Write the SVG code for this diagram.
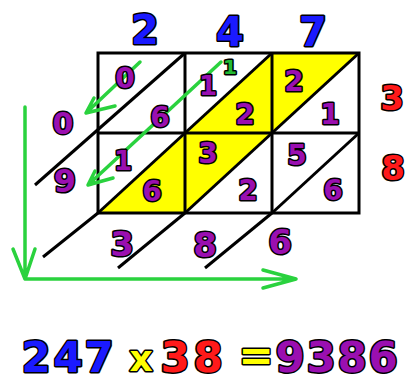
<svg xmlns="http://www.w3.org/2000/svg" width="409" height="384" viewBox="0 0 409 384">
<style>
.d{font-family:"DejaVu Sans",sans-serif;font-weight:bold;text-anchor:middle;stroke:#000;stroke-width:3;paint-order:stroke;stroke-linejoin:round}
.b{fill:#1a1aff}.p{fill:#9a0fb0}.r{fill:#ff1a1a}.y{fill:#ffff00}.g{fill:#22bb33}
.e{font-size:42px}
.ln{stroke:#000;stroke-width:3;fill:none;stroke-linecap:butt}
.ar{stroke:#2ad23e;stroke-width:3.5;fill:none;stroke-linecap:round;stroke-linejoin:round}
</style>
<rect width="409" height="384" fill="#fff"/>
<g id="grid">
<polygon points="185,133 272,133 272,53" fill="#ffff00"/>
<polygon points="272,53 359,53 272,133" fill="#ffff00"/>
<polygon points="98,213 185,213 185,133" fill="#ffff00"/>
<polygon points="185,133 272,133 185,213" fill="#ffff00"/>
<rect x="98" y="53" width="261" height="160" class="ln"/>
<line x1="185" y1="53" x2="185" y2="213" class="ln"/>
<line x1="272" y1="53" x2="272" y2="213" class="ln"/>
<line x1="98" y1="133" x2="359" y2="133" class="ln"/>
</g>
<g id="connectors">
<line x1="185" y1="53" x2="35" y2="185" class="ln"/>
<line x1="272" y1="53" x2="98" y2="213" class="ln"/>
<line x1="359" y1="53" x2="185" y2="213" class="ln"/>
<line x1="98" y1="213" x2="43" y2="257" class="ln"/>
<line x1="359" y1="133" x2="272" y2="213" class="ln"/>
<line x1="185" y1="213" x2="118" y2="268" class="ln"/>
<line x1="272" y1="213" x2="205" y2="268" class="ln"/>
<path d="M140,62 L86,113 M94,98 L86,113 L115,106" class="ar"/>
<path d="M221,62 L88,185 M95,171 L88,185 L113,178" class="ar"/>
<path d="M25,107 L25,279 L296,279 M13,249 L25,279 L35,249 M263,270 L296,279 L263,288" class="ar"/>
</g>
<g id="top-digits">
<text x="145" y="44" class="d b" font-size="40">2</text>
<text x="230" y="46" class="d b" font-size="40">4</text>
<text x="313" y="46" class="d b" font-size="40">7</text>
</g>
<g id="right-digits">
<text x="392" y="110" class="d r" font-size="34">3</text>
<text x="393" y="180" class="d r" font-size="34">8</text>
</g>
<g id="left-digits">
<text x="63" y="134" class="d p" font-size="30">0</text>
<text x="65" y="192" class="d p" font-size="32">9</text>
</g>
<g id="bottom-digits">
<text x="122" y="256" class="d p" font-size="34">3</text>
<text x="205" y="257" class="d p" font-size="34">8</text>
<text x="280" y="254" class="d p" font-size="34">6</text>
</g>
<g id="cell-digits">
<text x="125" y="88" class="d p" font-size="28">0</text>
<text x="160" y="127" class="d p" font-size="28">6</text>
<text x="208" y="95" class="d p" font-size="26">1</text>
<text x="230" y="74" class="d g" font-size="20" stroke-width="2">1</text>
<text x="245" y="124" class="d p" font-size="28">2</text>
<text x="294" y="91" class="d p" font-size="28">2</text>
<text x="330" y="124" class="d p" font-size="28">1</text>
<text x="123" y="170" class="d p" font-size="26">1</text>
<text x="152" y="201" class="d p" font-size="28">6</text>
<text x="208" y="163" class="d p" font-size="28">3</text>
<text x="248" y="200" class="d p" font-size="28">2</text>
<text x="297" y="165" class="d p" font-size="28">5</text>
<text x="333" y="200" class="d p" font-size="28">6</text>
</g>
<g id="equation">
<text x="36" y="372" class="d e b">2</text>
<text x="68" y="372" class="d e b">4</text>
<text x="99" y="372" class="d e b">7</text>
<text x="141" y="371" class="d y" font-size="36">x</text>
<text x="175" y="372" class="d e r">3</text>
<text x="208" y="372" class="d e r">8</text>
<text x="256" y="370" class="d e y">=</text>
<text x="290" y="372" class="d e p">9</text>
<text x="321" y="372" class="d e p">3</text>
<text x="352" y="372" class="d e p">8</text>
<text x="383" y="372" class="d e p">6</text>
</g>
</svg>
